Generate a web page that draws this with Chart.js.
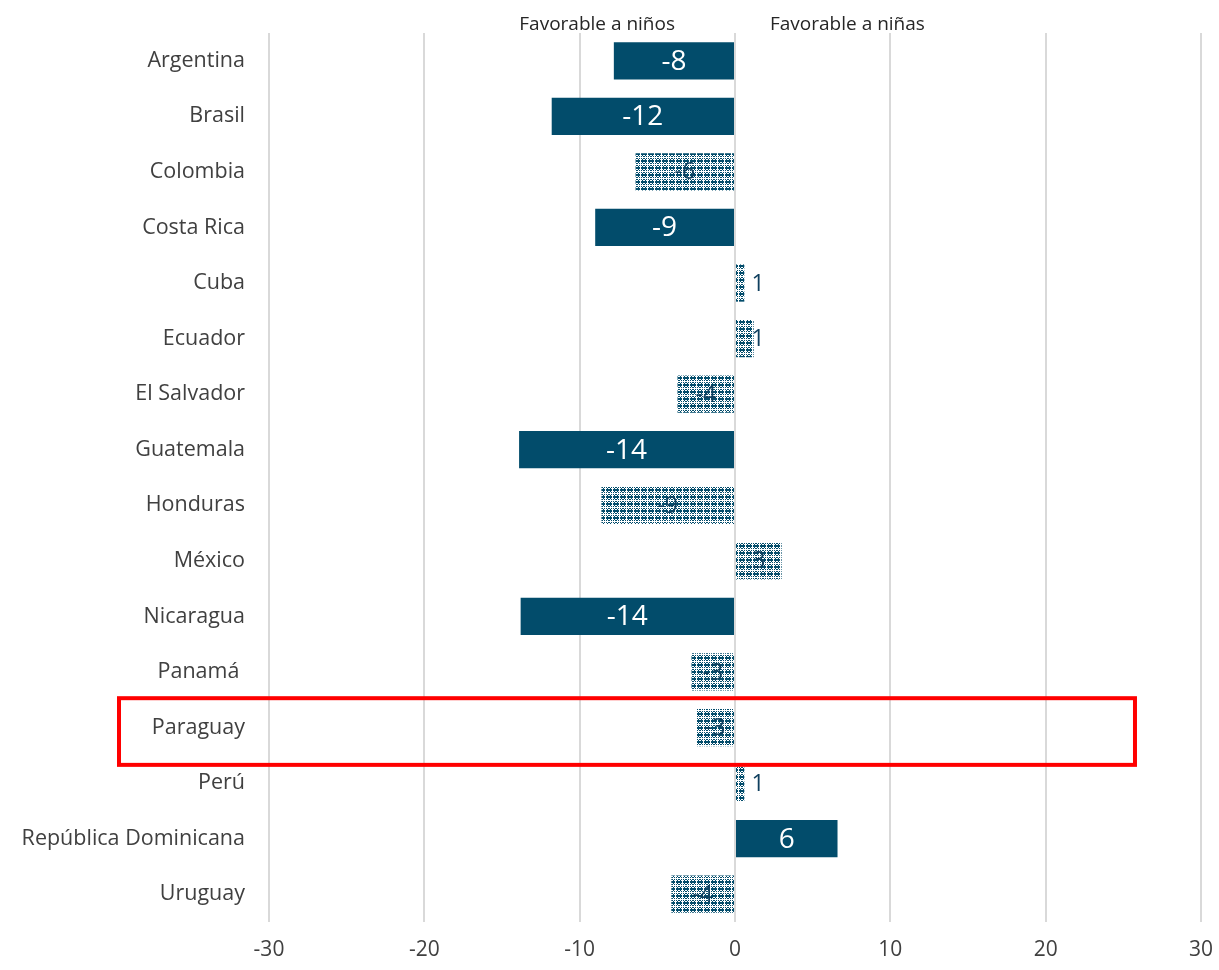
<!DOCTYPE html>
<html>
<head>
<meta charset="utf-8">
<script src="https://cdn.jsdelivr.net/npm/chart.js@4"></script>
<style>
  html, body { margin: 0; background: #fff; overflow: hidden; }
  #wrap { width: 1219px; height: 970px; }
  canvas { display: block; }
</style>
</head>
<body>
<div id="wrap"><canvas id="gapChart"></canvas></div>
<script>
const countries = ["Argentina", "Brasil", "Colombia", "Costa Rica", "Cuba", "Ecuador", "El Salvador", "Guatemala",
  "Honduras", "México", "Nicaragua", "Panamá ", "Paraguay", "Perú", "República Dominicana", "Uruguay"];
const gaps = [-7.8, -11.8, -6.4, -9.0, 0.6, 1.2, -3.7, -13.9, -8.6, 3.0, -13.8, -2.8, -2.5, 0.6, 6.6, -4.1];
const gapLabels = ["-8", "-12", "-6", "-9", "1", "1", "-4", "-14", "-9", "3", "-14", "-3", "-3", "1", "6", "-4"];
// true = diferencia significativa (barra sólida), false = no significativa (trama)
const significant = [true, true, false, true, false, false, false, true, false, false, true, false, false, false, true, false];
const xTicks = [-30, -20, -10, 0, 10, 20, 30];
const highlighted = "Paraguay";

const DARK = "#024c6b";
const FONT = "'Open Sans', 'Noto Sans', sans-serif";

// trama tipo tablero para las barras no significativas
function makePattern() {
  const c = document.createElement("canvas");
  c.width = 7; c.height = 7;
  const g = c.getContext("2d");
  g.fillStyle = "#fff";
  g.fillRect(0, 0, 7, 7);
  g.fillStyle = DARK;
  for (let y = 0; y < 7; y++) {
    for (let x = 0; x < 7; x++) {
      if (y === 3 || x === 3) continue;           // líneas blancas
      if (y === 0 || y === 6 || (x + y) % 2 === 0) g.fillRect(x, y, 1, 1);
    }
  }
  return g.createPattern(c, "repeat");
}
const hatch = makePattern();

const labelsPlugin = {
  id: "barLabels",
  afterDatasetsDraw(chart) {
    const ctx = chart.ctx;
    const meta = chart.getDatasetMeta(0);
    const x0 = chart.scales.x.getPixelForValue(0);
    ctx.save();
    ctx.textBaseline = "middle";
    ctx.textAlign = "center";
    meta.data.forEach((bar, i) => {
      let x = (bar.x + bar.base) / 2;
      if (gaps[i] > 0) x = Math.max(x, x0 + 23);
      if (significant[i]) {
        ctx.fillStyle = "#fff";
        ctx.font = "28px " + FONT;
      } else {
        ctx.fillStyle = "#0f3f5e";
        ctx.font = "23px " + FONT;
      }
      ctx.fillText(gapLabels[i], x, bar.y + 1);
    });
    ctx.restore();
  }
};

const annotationsPlugin = {
  id: "annotations",
  afterDraw(chart) {
    const ctx = chart.ctx;
    const xs = chart.scales.x, ys = chart.scales.y;
    const x0 = xs.getPixelForValue(0);
    ctx.save();
    ctx.fillStyle = "#262626";
    ctx.font = "19px " + FONT;
    ctx.textBaseline = "middle";
    ctx.textAlign = "right";
    ctx.fillText("Favorable a niños", x0 - 60, 25);
    ctx.textAlign = "left";
    ctx.fillText("Favorable a niñas", x0 + 35, 25);

    // recuadro rojo sobre el país destacado
    const idx = countries.indexOf(highlighted);
    const band = ys.getPixelForValue(1) - ys.getPixelForValue(0);
    const cy = ys.getPixelForValue(idx) + 4;
    ctx.strokeStyle = "#ff0000";
    ctx.lineWidth = 4;
    ctx.strokeRect(xs.left - 150, cy - band * 0.6, xs.getPixelForValue(25.75) - (xs.left - 150), band * 1.2);
    ctx.restore();
  }
};

new Chart(document.getElementById("gapChart"), {
  type: "bar",
  data: {
    labels: countries,
    datasets: [{
      data: gaps,
      backgroundColor: gaps.map((_, i) => significant[i] ? DARK : hatch),
      borderWidth: 0,
      barPercentage: 0.67,
      categoryPercentage: 1
    }]
  },
  options: {
    indexAxis: "y",
    responsive: true,
    maintainAspectRatio: false,
    animation: false,
    layout: { padding: { top: 33, right: 18, left: 0, bottom: 0 } },
    plugins: { legend: { display: false }, tooltip: { enabled: false } },
    scales: {
      x: {
        min: -30, max: 30,
        afterBuildTicks: (s) => { s.ticks = xTicks.map(v => ({ value: v })); },
        afterFit: (s) => { s.height = 48; s.paddingLeft = 0; s.paddingRight = 0; },
        grid: { color: "#d9d9d9", lineWidth: 2, drawTicks: false },
        border: { display: false },
        ticks: { color: "#404040", font: { family: FONT, size: 21 }, padding: 15 }
      },
      y: {
        afterFit: (s) => { s.width = 269; s.paddingTop = 0; s.paddingBottom = 0; },
        grid: { display: false },
        border: { display: false },
        ticks: { color: "#404040", font: { family: FONT, size: 21.5 }, padding: 16, autoSkip: false }
      }
    }
  },
  plugins: [labelsPlugin, annotationsPlugin]
});
</script>
</body>
</html>
